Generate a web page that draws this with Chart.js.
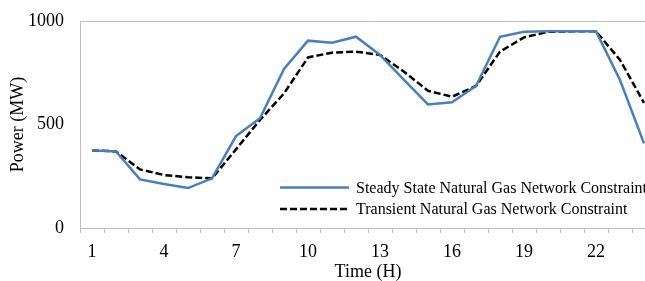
<!DOCTYPE html>
<html>
<head>
<meta charset="utf-8">
<script src="https://cdn.jsdelivr.net/npm/chart.js@4.4.0/dist/chart.umd.min.js"></script>
<style>
  html, body { margin: 0; padding: 0; background: #fff; overflow: hidden; }
  #wrap { width: 656px; height: 281px; }
</style>
</head>
<body>
<div id="wrap"><canvas id="mycanvas" width="656" height="281"></canvas></div>
<script>
var hours = [1,2,3,4,5,6,7,8,9,10,11,12,13,14,15,16,17,18,19,20,21,22,23,24];
var steadyState = [375,370,235,213,193,240,444,530,768,905,895,924,836,716,597,607,686,924,948,950,950,950,715,409];
var transient = [375,370,283,256,245,240,380,522,650,824,847,852,836,755,663,634,686,852,921,948,950,950,812,605];
var yTicks = [0, 500, 1000];
var legendNames = ['Steady State Natural Gas Network Constraint', 'Transient Natural Gas Network Constraint'];

var serif = "'Liberation Serif', 'Times New Roman', serif";
var axisGray = '#bfbfbf';

// legend sits inside the plot, lower right
var legendBox = {
	id: 'legendBox',
	afterDraw: function(chart) {
		var c = chart.ctx;
		var rows = [
			{ y: 187.5, color: '#4a7ebb', dash: [] },
			{ y: 209, color: '#000000', dash: [7, 3] }
		];
		c.save();
		c.font = '16px ' + serif;
		c.textBaseline = 'middle';
		c.fillStyle = '#000';
		for (var i = 0; i < rows.length; i++) {
			c.beginPath();
			c.setLineDash(rows[i].dash);
			c.strokeStyle = rows[i].color;
			c.lineWidth = 2.5;
			c.moveTo(280, rows[i].y);
			c.lineTo(349, rows[i].y);
			c.stroke();
			c.fillText(legendNames[i], 356, rows[i].y + 1);
		}
		c.restore();
	}
};

var chartdata = {
	labels: hours,
	datasets: [
		{
			label: legendNames[0],
			data: steadyState,
			borderColor: '#4a7ebb',
			backgroundColor: '#4a7ebb',
			borderWidth: 2.5,
			pointRadius: 0,
			tension: 0,
			fill: false
		},
		{
			label: legendNames[1],
			data: transient,
			borderColor: '#000000',
			backgroundColor: '#000000',
			borderWidth: 2.5,
			borderDash: [7, 3],
			pointRadius: 0,
			tension: 0,
			fill: false
		}
	]
};

var ctx = document.getElementById('mycanvas');

var lineGraph = new Chart(ctx, {
	type: 'line',
	data: chartdata,
	options: {
		responsive: false,
		animation: false,
		layout: { padding: { top: 21, right: 0, left: 0, bottom: 0 } },
		plugins: {
			legend: { display: false },
			tooltip: { enabled: false }
		},
		scales: {
			x: {
				offset: true,
				grid: {
					offset: true,
					drawOnChartArea: false,
					drawTicks: true,
					tickLength: 5,
					color: axisGray
				},
				border: { color: axisGray, width: 1 },
				ticks: {
					autoSkip: false,
					maxRotation: 0,
					padding: 8,
					color: '#000',
					font: { family: serif, size: 18 },
					callback: function(val, idx) {
						return idx % 3 === 0 ? hours[idx] : '';
					}
				},
				title: {
					display: true,
					text: 'Time (H)',
					color: '#000',
					font: { family: serif, size: 18, lineHeight: 1 },
					padding: { top: 0, bottom: 0 }
				},
				afterFit: function(scale) { scale.height = 53; }
			},
			y: {
				min: 0,
				max: 1000,
				afterBuildTicks: function(scale) {
					scale.ticks = yTicks.map(function(v) { return { value: v }; });
				},
				grid: {
					drawTicks: false,
					color: function(c) { return c.tick && c.tick.value === 1000 ? axisGray : 'rgba(0,0,0,0)'; }
				},
				border: { color: axisGray, width: 1 },
				ticks: {
					padding: 16,
					color: '#000',
					font: { family: serif, size: 18 },
					callback: function(val) { return String(val); }
				},
				title: {
					display: true,
					text: 'Power (MW)',
					color: '#000',
					font: { family: serif, size: 18 },
					padding: { top: 7, bottom: 0 }
				},
				afterFit: function(scale) {
					scale.width = 80;
					// tick padding would otherwise push the plot top down
					scale.paddingTop = 11;
					scale.paddingBottom = 11;
				}
			}
		}
	},
	plugins: [legendBox]
});
</script>
</body>
</html>
